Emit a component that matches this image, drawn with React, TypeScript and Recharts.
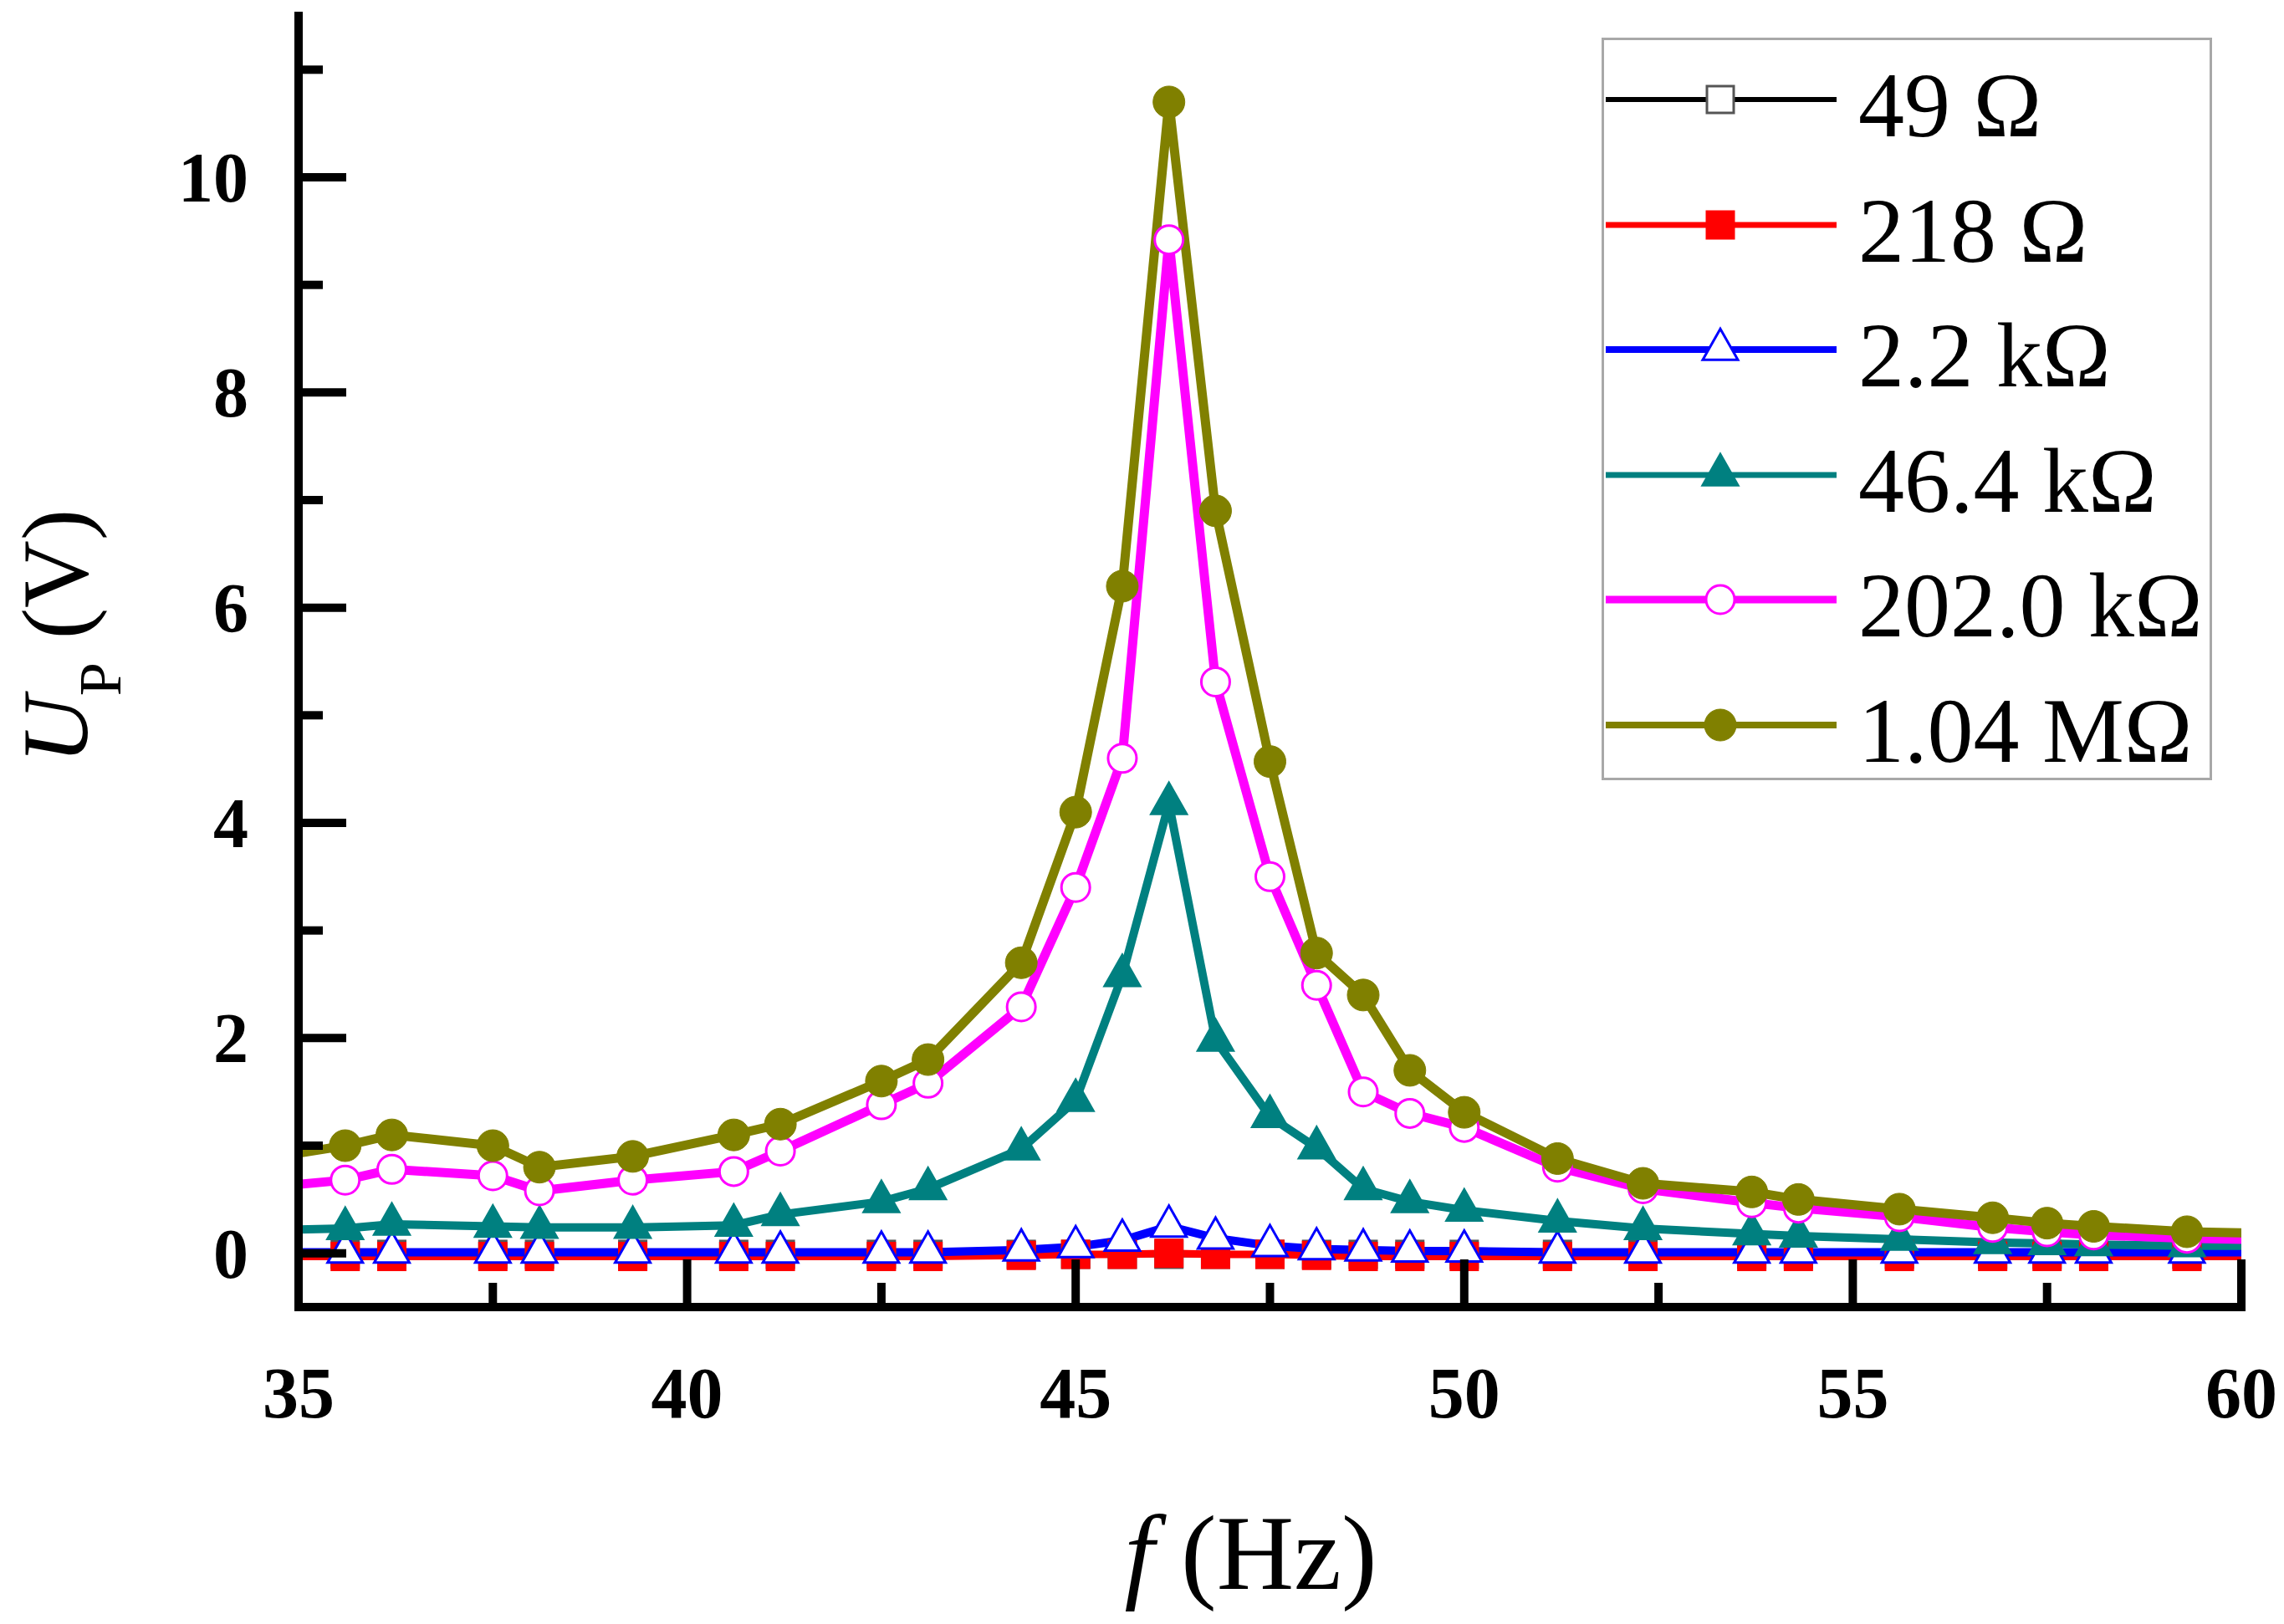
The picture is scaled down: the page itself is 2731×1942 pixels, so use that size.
import React from "react";
import { LineChart, Line, XAxis, YAxis, Legend, Label } from "recharts";

// --- measured frequencies (Hz); first/last points lie just outside the 35-60 window
const freq = [
  34.4, 35.6, 36.2, 37.5, 38.1, 39.3, 40.6, 41.2, 42.5, 43.1, 44.3, 45.0, 45.6,
  46.2, 46.8, 47.5, 48.1, 48.7, 49.3, 50.0, 51.2, 52.3, 53.7, 54.3, 55.6, 56.8,
  57.5, 58.1, 59.3, 60.6,
];

// --- U_P (V) for each load resistance
const up49 = [
  -0.01, -0.01, -0.01, -0.01, -0.01, -0.01, -0.01, -0.01, -0.01, -0.01, -0.01,
  -0.01, -0.01, -0.01, -0.01, -0.01, -0.01, -0.01, -0.01, -0.01, -0.01, -0.01,
  -0.01, -0.01, -0.01, -0.01, -0.01, -0.01, -0.01, -0.01,
];
const up218 = [
  -0.03, -0.03, -0.03, -0.03, -0.03, -0.03, -0.03, -0.03, -0.03, -0.03, -0.02,
  -0.01, -0.01, 0.0, -0.01, -0.01, -0.02, -0.03, -0.03, -0.03, -0.03, -0.03,
  -0.03, -0.03, -0.03, -0.03, -0.03, -0.03, -0.03, -0.03,
];
const up2k2 = [
  0.01, 0.01, 0.01, 0.01, 0.01, 0.01, 0.01, 0.01, 0.01, 0.01, 0.03, 0.06, 0.12,
  0.25, 0.14, 0.07, 0.04, 0.03, 0.02, 0.02, 0.01, 0.01, 0.01, 0.01, 0.01, 0.01,
  0.01, 0.01, 0.01, 0.01,
];
const up46k4 = [
  0.21, 0.23, 0.27, 0.25, 0.24, 0.24, 0.26, 0.36, 0.48, 0.6, 0.97, 1.42, 2.58,
  4.18, 1.98, 1.27, 0.98, 0.6, 0.48, 0.4, 0.3, 0.23, 0.18, 0.16, 0.13, 0.1,
  0.09, 0.08, 0.07, 0.07,
];
const up202k = [
  0.6, 0.68, 0.78, 0.72, 0.58, 0.68, 0.76, 0.95, 1.38, 1.58, 2.29, 3.4, 4.6,
  9.42, 5.31, 3.5, 2.49, 1.5, 1.3, 1.17, 0.8, 0.6, 0.47, 0.42, 0.34, 0.24, 0.2,
  0.17, 0.14, 0.12,
];
const up104M = [
  0.86, 1.0, 1.1, 1.0, 0.8, 0.9, 1.1, 1.2, 1.6, 1.8, 2.7, 4.1, 6.2, 10.7, 6.9,
  4.57, 2.79, 2.4, 1.7, 1.31, 0.88, 0.65, 0.57, 0.5, 0.41, 0.33, 0.28, 0.25,
  0.2, 0.18,
];

const seriesNames = ["49 Ω", "218 Ω", "2.2 kΩ", "46.4 kΩ", "202.0 kΩ", "1.04 MΩ"];
const xTicks = [35, 37.5, 40, 42.5, 45, 47.5, 50, 52.5, 55, 57.5, 60];
const yTicks = [0, 1, 2, 3, 4, 5, 6, 7, 8, 9, 10, 11];

const FONT = "'Liberation Serif', 'Times New Roman', serif";

const data = freq.map((f, i) => ({
  f,
  r49: up49[i],
  r218: up218[i],
  r2k2: up2k2[i],
  r46k4: up46k4[i],
  r202k: up202k[i],
  r104M: up104M[i],
}));

// --- per-series look (Origin style)
const series = [
  { key: "r49", name: seriesNames[0], color: "#000000", width: 7, legendWidth: 6, shape: "square", filled: false },
  { key: "r218", name: seriesNames[1], color: "#ff0000", width: 9, legendWidth: 7, shape: "square", filled: true },
  { key: "r2k2", name: seriesNames[2], color: "#0000ff", width: 10, legendWidth: 8, shape: "triangle", filled: false },
  { key: "r46k4", name: seriesNames[3], color: "#008080", width: 10, legendWidth: 7, shape: "triangle", filled: true },
  { key: "r202k", name: seriesNames[4], color: "#ff00ff", width: 11, legendWidth: 9, shape: "circle", filled: false },
  { key: "r104M", name: seriesNames[5], color: "#808000", width: 11, legendWidth: 8, shape: "circle", filled: true },
];

const Marker = ({ cx, cy, shape, color, filled }: any) => {
  if (cx == null || cy == null) return null;
  const fill = filled ? color : "#ffffff";
  const stroke = filled ? color : color === "#000000" ? "#555" : color;
  if (shape === "square") {
    return (
      <rect x={cx - 16} y={cy - 16} width={32} height={32} fill={fill} stroke={stroke} strokeWidth={3} />
    );
  }
  if (shape === "triangle") {
    const w = 42;
    const h = 37;
    const pts = `${cx},${cy - (2 * h) / 3} ${cx - w / 2},${cy + h / 3} ${cx + w / 2},${cy + h / 3}`;
    return <polygon points={pts} fill={fill} stroke={stroke} strokeWidth={3} strokeLinejoin="miter" />;
  }
  return <circle cx={cx} cy={cy} r={filled ? 19 : 17} fill={fill} stroke={stroke} strokeWidth={filled ? 1 : 3} />;
};

const XTick = ({ x, y, payload }: any) => {
  const major = payload.value % 5 === 0;
  return (
    <g>
      <line x1={x} x2={x} y1={y} y2={y - (major ? 57 : 29)} stroke="#000" strokeWidth={10} />
      {major && (
        <text x={x} y={y + 132} textAnchor="middle" fontFamily={FONT} fontWeight="bold" fontSize={86} fill="#000">
          {payload.value}
        </text>
      )}
    </g>
  );
};

const YTick = ({ x, y, payload }: any) => {
  const major = payload.value % 2 === 0;
  return (
    <g>
      <line x1={x} x2={x + (major ? 57 : 29)} y1={y} y2={y} stroke="#000" strokeWidth={10} />
      {major && (
        <text x={x - 60} y={y + 29} textAnchor="end" fontFamily={FONT} fontWeight="bold" fontSize={84} fill="#000">
          {payload.value}
        </text>
      )}
    </g>
  );
};

const YTitle = ({ viewBox }: any) => {
  const tx = viewBox.x + 47;
  const ty = viewBox.y + viewBox.height / 2 - 30;
  return (
    <text
      x={tx}
      y={ty}
      transform={`rotate(-90 ${tx} ${ty})`}
      textAnchor="middle"
      fontFamily={FONT}
      fontSize={112}
      fill="#000"
    >
      <tspan fontStyle="italic">U</tspan>
      <tspan fontSize={72} dy={40}>P</tspan>
      <tspan dy={-40}> (V)</tspan>
    </text>
  );
};

const XTitle = ({ viewBox }: any) => {
  const tx = viewBox.x + viewBox.width / 2 - 23;
  const ty = viewBox.y + 337;
  return (
    <text x={tx} y={ty} textAnchor="middle" fontFamily={FONT} fontSize={128} fill="#000">
      <tspan fontStyle="italic">f</tspan>
      <tspan> (Hz)</tspan>
    </text>
  );
};

const LegendBox = ({ payload }: any) => {
  const items = series.map((s) => ({
    s,
    entry: (payload || []).find((p: any) => p.dataKey === s.key),
  }));
  return (
    <div
      style={{
        width: 730,
        height: 888,
        border: "3px solid #a8a8a8",
        boxSizing: "border-box",
        background: "#fff",
        position: "relative",
      }}
    >
      {items.map(({ s, entry }, i) => (
        <div
          key={s.key}
          style={{
            position: "absolute",
            left: 0,
            top: 71 + i * 149.6 - 60,
            height: 120,
            display: "flex",
            alignItems: "center",
          }}
        >
          <svg width={280} height={120} style={{ display: "block" }}>
            <line x1={2} x2={278} y1={60} y2={60} stroke={s.color} strokeWidth={s.legendWidth} />
            <Marker cx={139} cy={60} shape={s.shape} color={s.color} filled={s.filled} />
          </svg>
          <span
            style={{
              marginLeft: 24,
              fontFamily: FONT,
              fontSize: 110,
              lineHeight: 1,
              paddingTop: 14,
              color: "#000",
              whiteSpace: "nowrap",
            }}
          >
            {entry ? entry.value : s.name}
          </span>
        </div>
      ))}
    </div>
  );
};

const frameLine = { stroke: "#000", strokeWidth: 10, strokeLinecap: "square" as const };

export default function App() {
  return (
    <div style={{ position: "absolute", left: 0, top: 0, width: 2731, height: 1942, background: "#fff" }}>
      <LineChart
        width={2731}
        height={1942}
        data={data}
        margin={{ top: 19, right: 51, bottom: 0, left: 57 }}
      >
        <XAxis
          dataKey="f"
          type="number"
          domain={[35, 60]}
          allowDataOverflow
          ticks={xTicks}
          interval={0}
          height={379}
          axisLine={frameLine}
          tickLine={false}
          tickSize={0}
          tickMargin={0}
          tick={<XTick />}
        >
          <Label content={<XTitle />} />
        </XAxis>
        <XAxis
          xAxisId="top"
          orientation="top"
          dataKey="f"
          type="number"
          domain={[35, 60]}
          allowDataOverflow
          height={0}
          axisLine={frameLine}
          tickLine={false}
          tick={false}
        />
        <YAxis
          type="number"
          domain={[-0.5, 11.5]}
          allowDataOverflow
          ticks={yTicks}
          interval={0}
          width={300}
          axisLine={frameLine}
          tickLine={false}
          tickSize={0}
          tickMargin={0}
          tick={<YTick />}
        >
          <Label content={<YTitle />} />
        </YAxis>
        <YAxis
          yAxisId="right"
          orientation="right"
          type="number"
          domain={[-0.5, 11.5]}
          allowDataOverflow
          width={0}
          axisLine={frameLine}
          tickLine={false}
          tick={false}
        />
        <Legend
          layout="vertical"
          align="center"
          verticalAlign="middle"
          content={<LegendBox />}
          wrapperStyle={{ position: "absolute", left: 1915, top: 45, width: 730, height: 888 }}
        />
        {series.map((s) => (
          <Line
            key={s.key}
            type="linear"
            dataKey={s.key}
            name={s.name}
            stroke={s.color}
            strokeWidth={s.width}
            isAnimationActive={false}
            dot={(p: any) => (
              <Marker
                key={`${s.key}-${p.index}`}
                cx={p.cx}
                cy={p.cy}
                shape={s.shape}
                color={s.color}
                filled={s.filled}
              />
            )}
            activeDot={false}
          />
        ))}
      </LineChart>
    </div>
  );
}
